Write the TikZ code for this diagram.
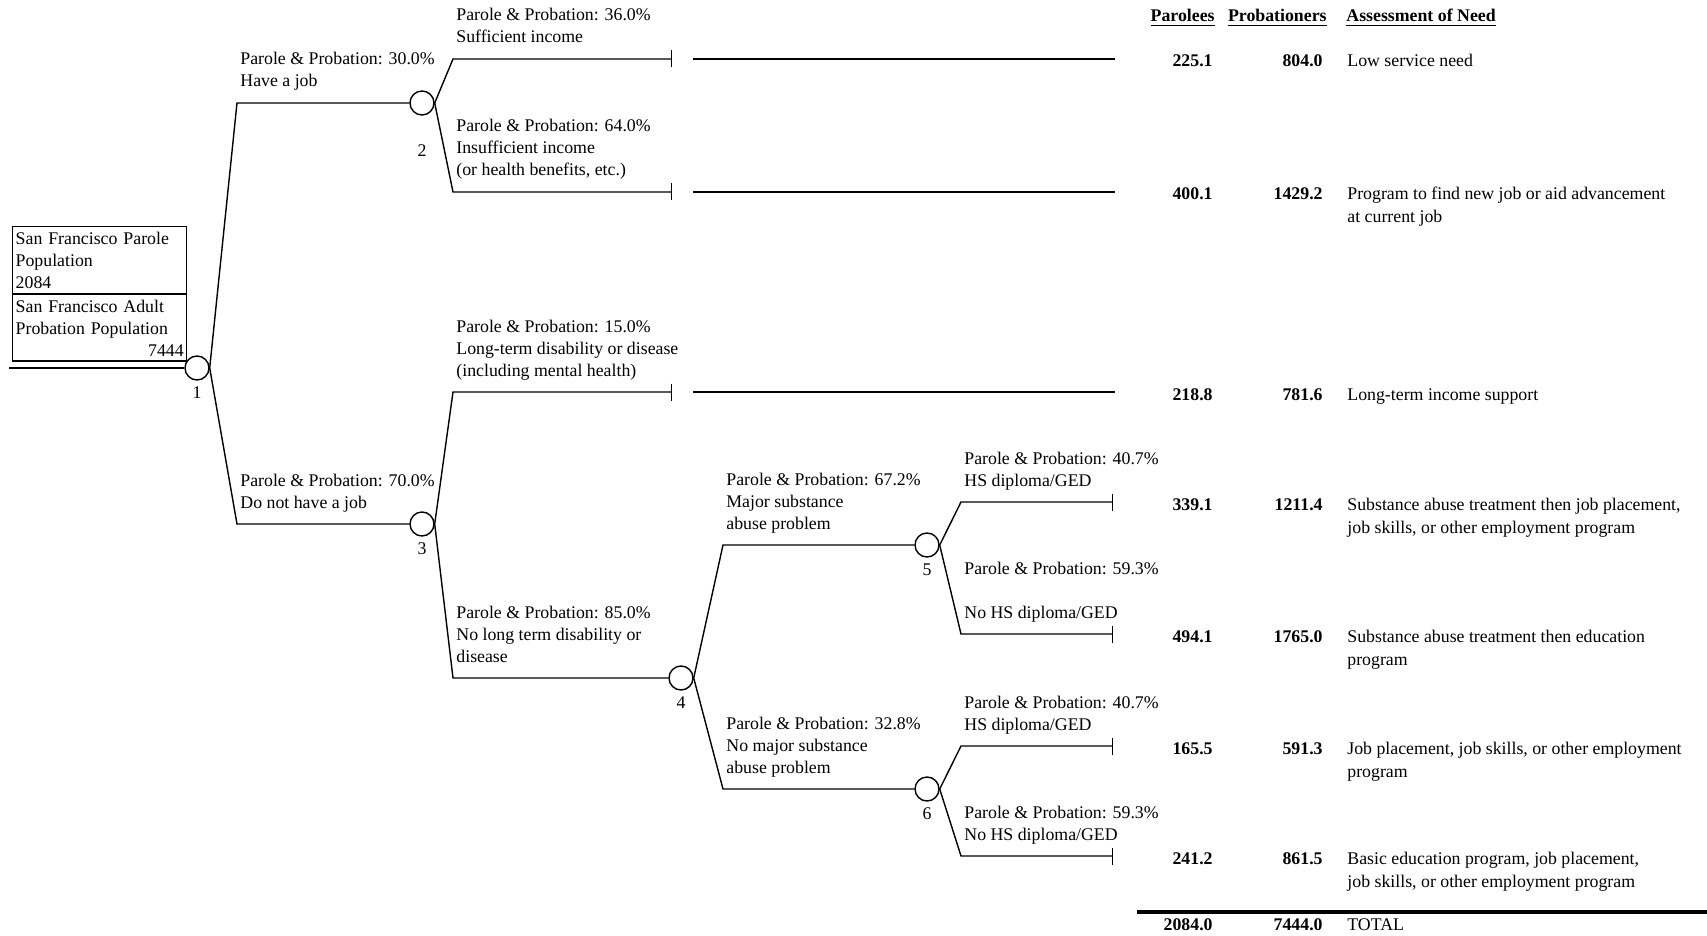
\documentclass[tikz,border=0pt]{standalone}
\usepackage{fontspec}
\setmainfont{Liberation Serif}
\usetikzlibrary{arrows.meta,positioning}
\newcommand{\needcell}[1]{\begin{tabular}[t]{@{}l@{}}#1\end{tabular}}

\begin{document}
\begin{tikzpicture}[
  x=0.5pt,y=-0.5pt,
  font=\fontsize{8.9}{11}\selectfont,
  chance/.style={circle,draw,line width=0.7pt,minimum size=12pt,inner sep=0pt},
  branch/.style={line width=0.7pt},
  leaf/.style={branch,-{Bar[width=8.5pt]}},
  lbl/.style={align=left,inner sep=0pt,anchor=base west},
  num/.style={inner sep=0pt},
  popbox/.style={draw,line width=0.7pt,text width=84pt,inner xsep=1.5pt,inner ysep=1pt,
                 minimum height=33.25pt,align=left},
  hdr/.style={font=\fontsize{8.9}{11}\selectfont\bfseries,inner sep=0pt,anchor=base east},
  val/.style={font=\fontsize{8.9}{11}\selectfont\bfseries,inner sep=0pt,anchor=base east},
  need/.style={font=\fontsize{8.9}{11.5}\selectfont,inner sep=0pt,anchor=base west}]

  \useasboundingbox (0,0) rectangle (1707,936);

  % population box and root
  \node[popbox,anchor=north west] (parpop) at (12,226) {San Francisco Parole\\Population\\2084};
  \node[popbox,below=0pt of parpop] (probpop) {San Francisco Adult\\Probation Population\\\mbox{}\hskip 0pt plus 1filll 7444};
  \coordinate (root) at (9,368);

  % chance nodes
  \node[chance] (n1) at (197,368) {};
  \node[chance] (n2) at (422,103) {};
  \node[chance] (n3) at (422,524) {};
  \node[chance] (n4) at (681,678) {};
  \node[chance] (n5) at (927,545) {};
  \node[chance] (n6) at (927,789) {};

  \node[num,below=3pt of n1] (k1) {1};
  \node[num,below=14.4pt of n2] (k2) {2};
  \node[num,below=3pt of n3] (k3) {3};
  \node[num,below=3pt of n4] (k4) {4};
  \node[num,below=3pt of n5] (k5) {5};
  \node[num,below=3pt of n6] (k6) {6};

  % corners
  \coordinate (c2) at (237,103);
  \coordinate (c3) at (237,524);
  \coordinate (c21) at (453,59);
  \coordinate (c22) at (453,192);
  \coordinate (c31) at (453,392);
  \coordinate (c32) at (453,678);
  \coordinate (c41) at (723,545);
  \coordinate (c42) at (723,789);
  \coordinate (c51) at (961,502);
  \coordinate (c52) at (961,634);
  \coordinate (c61) at (961,746);
  \coordinate (c62) at (961,856);

  % leaf ends
  \coordinate (t1) at (672,59);
  \coordinate (t2) at (672,192);
  \coordinate (t3) at (672,392);
  \coordinate (t4) at (1113,502);
  \coordinate (t5) at (1113,634);
  \coordinate (t6) at (1113,746);
  \coordinate (t7) at (1113,856);
  \coordinate (run1a) at (693,59);   \coordinate (run1b) at (1115,59);
  \coordinate (run2a) at (693,192);  \coordinate (run2b) at (1115,192);
  \coordinate (run3a) at (693,392);  \coordinate (run3b) at (1115,392);

  \draw[branch] (root) -- (n1);
  \draw[branch] (n1.east) -- (c2) -- (n2);
  \draw[branch] (n1.east) -- (c3) -- (n3);
  \draw[leaf] (n2.east) -- (c21) -- (t1);
  \draw[leaf] (n2.east) -- (c22) -- (t2);
  \draw[leaf] (n3.east) -- (c31) -- (t3);
  \draw[branch] (n3.east) -- (c32) -- (n4);
  \draw[branch] (n4.east) -- (c41) -- (n5);
  \draw[branch] (n4.east) -- (c42) -- (n6);
  \draw[leaf] (n5.east) -- (c51) -- (t4);
  \draw[leaf] (n5.east) -- (c52) -- (t5);
  \draw[leaf] (n6.east) -- (c61) -- (t6);
  \draw[leaf] (n6.east) -- (c62) -- (t7);
  \draw[branch] (run1a) -- (run1b);
  \draw[branch] (run2a) -- (run2b);
  \draw[branch] (run3a) -- (run3b);

  % branch labels
  \node[above right=8pt and 1.5pt of c2,lbl] (l2) {Parole \& Probation: 30.0\%\\Have a job};
  \node[above right=8pt and 1.5pt of c3,lbl] (l3) {Parole \& Probation: 70.0\%\\Do not have a job};
  \node[above right=8pt and 1.5pt of c21,lbl] (l21) {Parole \& Probation: 36.0\%\\Sufficient income};
  \node[above right=8pt and 1.5pt of c22,lbl] (l22) {Parole \& Probation: 64.0\%\\Insufficient income\\(or health benefits, etc.)};
  \node[above right=8pt and 1.5pt of c31,lbl] (l31) {Parole \& Probation: 15.0\%\\Long-term disability or disease\\(including mental health)};
  \node[above right=8pt and 1.5pt of c32,lbl] (l32) {Parole \& Probation: 85.0\%\\No long term disability or\\disease};
  \node[above right=8pt and 1.5pt of c41,lbl] (l41) {Parole \& Probation: 67.2\%\\Major substance\\abuse problem};
  \node[above right=8pt and 1.5pt of c42,lbl] (l42) {Parole \& Probation: 32.8\%\\No major substance\\abuse problem};
  \node[above right=8pt and 1.5pt of c51,lbl] (l51) {Parole \& Probation: 40.7\%\\HS diploma/GED};
  \node[above right=8pt and 1.5pt of c52,lbl] (l52) {Parole \& Probation: 59.3\%\\[11pt]No HS diploma/GED};
  \node[above right=8pt and 1.5pt of c61,lbl] (l61) {Parole \& Probation: 40.7\%\\HS diploma/GED};
  \node[above right=8pt and 1.5pt of c62,lbl] (l62) {Parole \& Probation: 59.3\%\\No HS diploma/GED};

  % table on the right
  \node[hdr] (hpar) at (1215,22) {\underline{Parolees}};
  \node[hdr] (hprob) at (1327,22) {\underline{Probationers}};
  \node[hdr,anchor=base west] (hneed) at (1346,22) {\underline{Assessment of Need}};

  \node[val] (par1) at (1213,67) {225.1};
  \node[val] (prob1) at (1323,67) {804.0};
  \node[need] (need1) at (1347,67) {Low service need};
  \node[val] (par2) at (1213,200) {400.1};
  \node[val] (prob2) at (1323,200) {1429.2};
  \node[need] (need2) at (1347,200) {\needcell{Program to find new job or aid advancement\\at current job}};
  \node[val] (par3) at (1213,400) {218.8};
  \node[val] (prob3) at (1323,400) {781.6};
  \node[need] (need3) at (1347,400) {Long-term income support};
  \node[val] (par4) at (1213,510) {339.1};
  \node[val] (prob4) at (1323,510) {1211.4};
  \node[need] (need4) at (1347,510) {\needcell{Substance abuse treatment then job placement,\\job skills, or other employment program}};
  \node[val] (par5) at (1213,642) {494.1};
  \node[val] (prob5) at (1323,642) {1765.0};
  \node[need] (need5) at (1347,642) {\needcell{Substance abuse treatment then education\\program}};
  \node[val] (par6) at (1213,754) {165.5};
  \node[val] (prob6) at (1323,754) {591.3};
  \node[need] (need6) at (1347,754) {\needcell{Job placement, job skills, or other employment\\program}};
  \node[val] (par7) at (1213,864) {241.2};
  \node[val] (prob7) at (1323,864) {861.5};
  \node[need] (need7) at (1347,864) {\needcell{Basic education program, job placement,\\job skills, or other employment program}};

  % total
  \coordinate (totl) at (1137,912);
  \coordinate (totr) at (1707,912);
  \draw[line width=2.4pt] (totl) -- (totr);
  \node[val] (partot) at (1213,930) {2084.0};
  \node[val] (probtot) at (1323,930) {7444.0};
  \node[need] (tot) at (1347,930) {TOTAL};
\end{tikzpicture}
\end{document}
